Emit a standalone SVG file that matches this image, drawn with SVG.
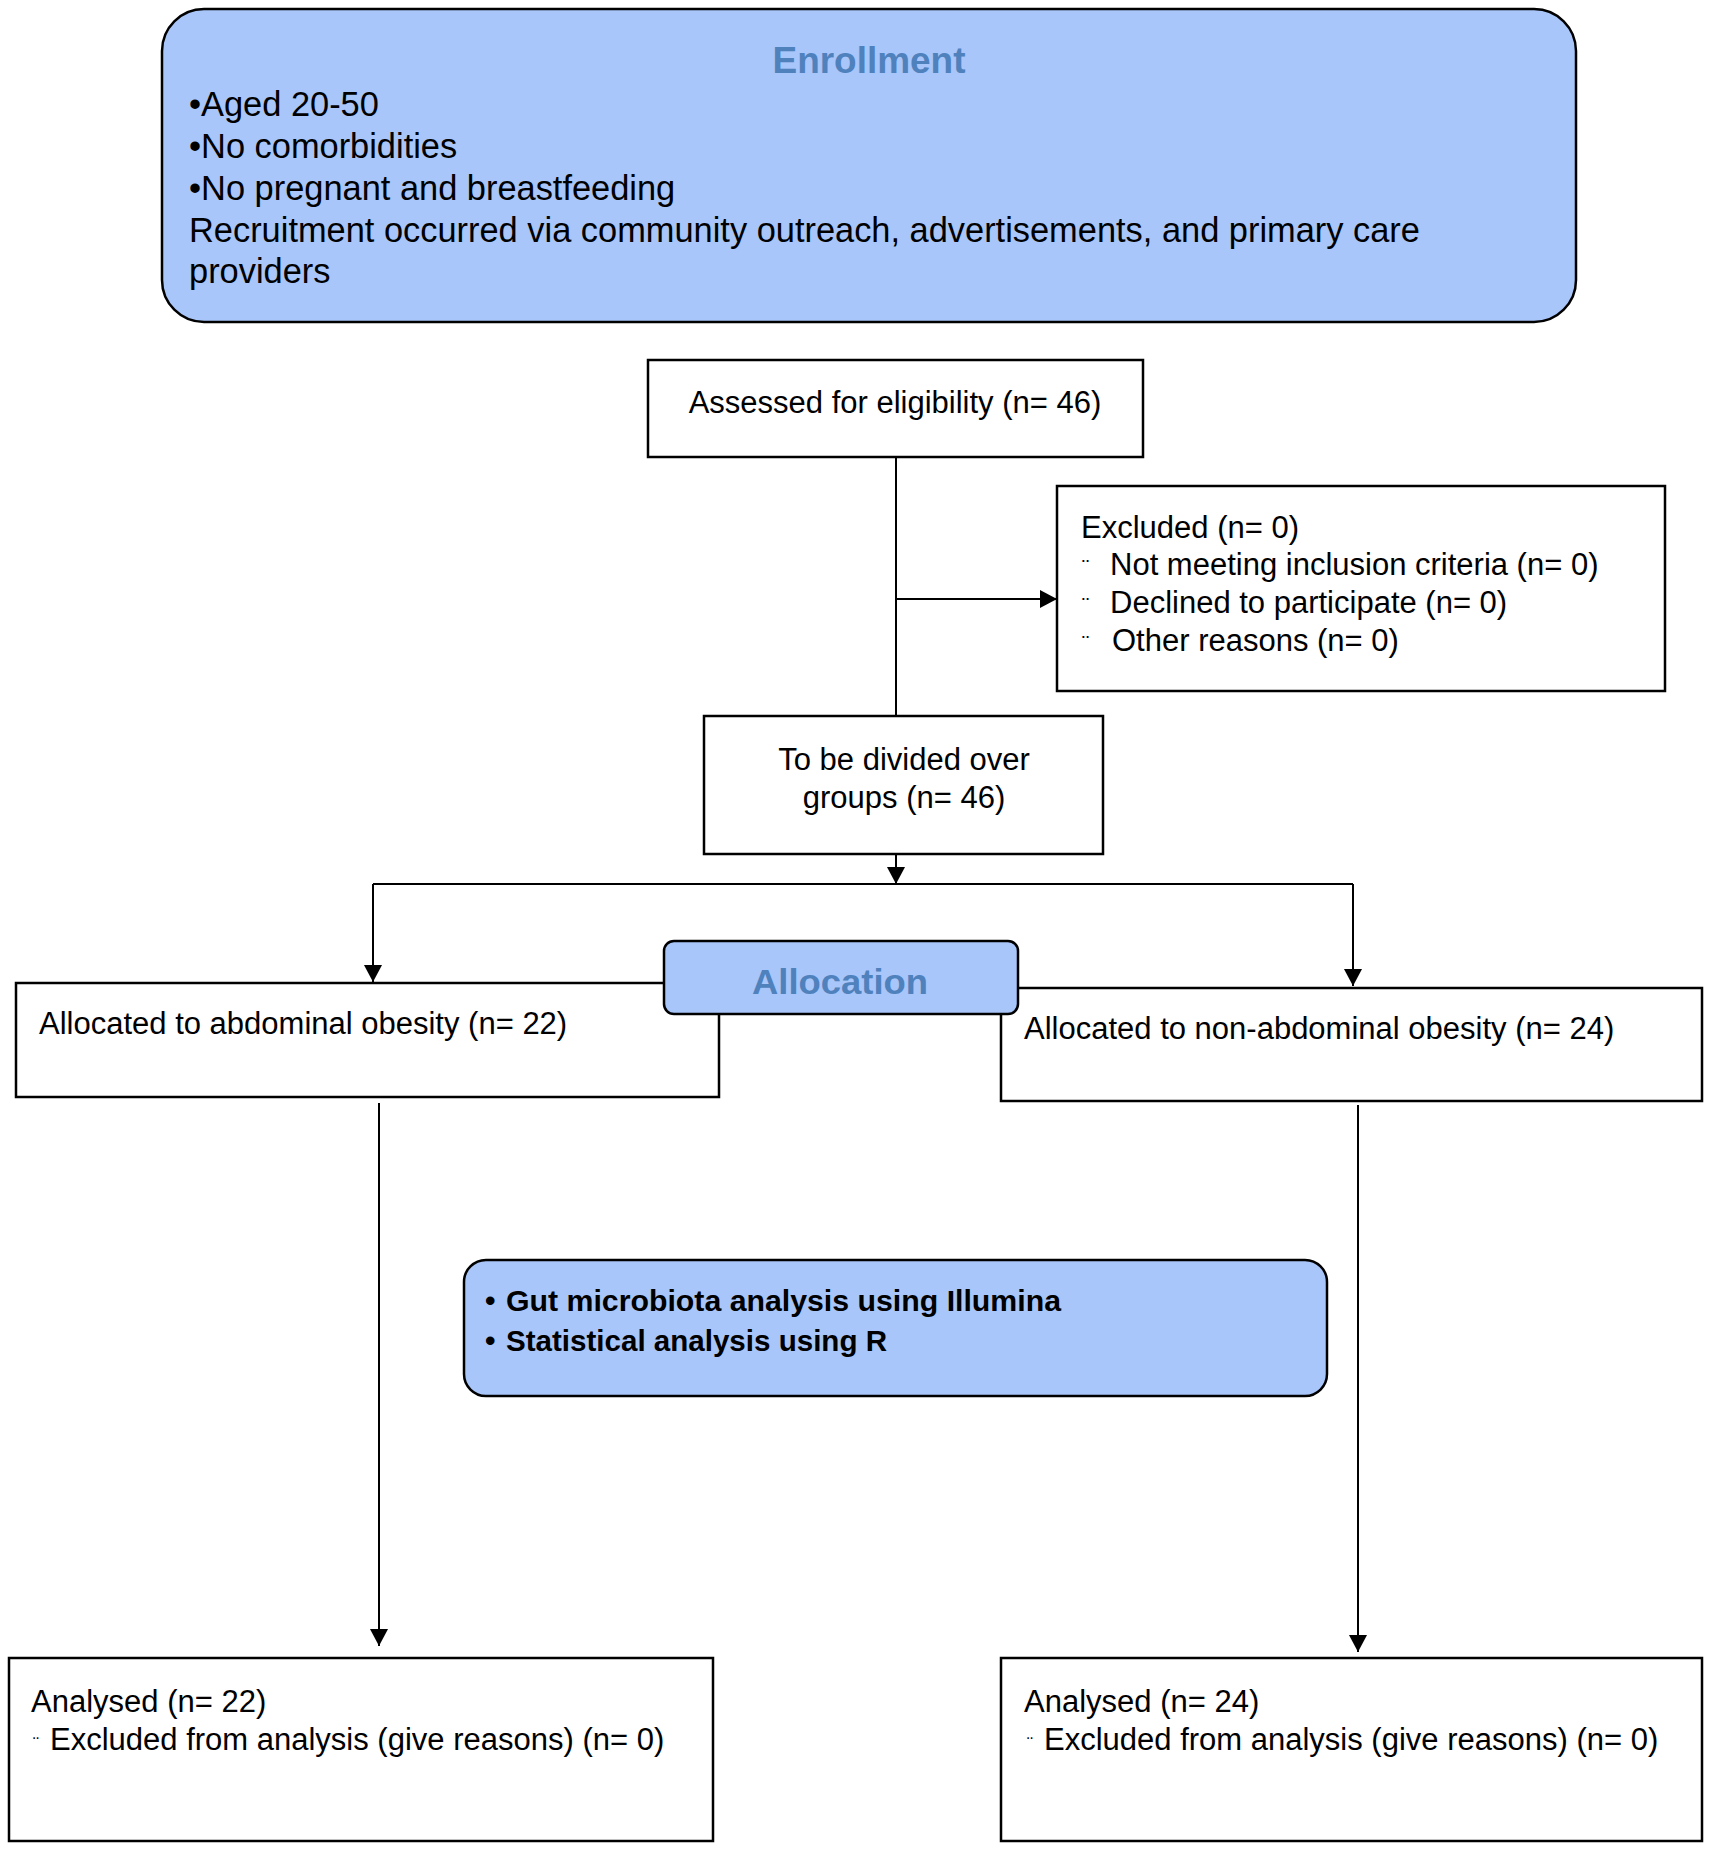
<svg xmlns="http://www.w3.org/2000/svg" width="1713" height="1852" viewBox="0 0 1713 1852">
<defs>
<style>
.box{fill:#ffffff;stroke:#000;stroke-width:2.5}
.blue{fill:#a8c6fa;stroke:#000;stroke-width:2.5}
.t{font-family:"Liberation Sans",Arial,sans-serif;font-size:31px;fill:#000}
.te{font-family:"Liberation Sans",Arial,sans-serif;font-size:34.4px;fill:#000}
.h{font-family:"Liberation Sans",Arial,sans-serif;font-weight:bold;fill:#4f81bd;text-anchor:middle}
.b{font-family:"Liberation Sans",Arial,sans-serif;font-weight:bold;font-size:30px;fill:#000}
.dot{font-family:"Liberation Sans",Arial,sans-serif;fill:#000}
.c{text-anchor:middle}
.ln{fill:none;stroke:#000;stroke-width:2}
</style>
<marker id="arr" markerUnits="userSpaceOnUse" viewBox="0 0 17 18" refX="17" refY="9" markerWidth="17" markerHeight="18" orient="auto">
<path d="M0,0 L17,9 L0,18 z" fill="#000"/>
</marker>
</defs>
<rect width="1713" height="1852" fill="#ffffff"/>

<g id="connectors">
<line class="ln" x1="896" y1="457" x2="896" y2="716"/>
<line class="ln" x1="896" y1="599" x2="1057" y2="599" marker-end="url(#arr)"/>
<line class="ln" x1="896" y1="854" x2="896" y2="884" marker-end="url(#arr)"/>
<line class="ln" x1="373" y1="884" x2="1353" y2="884"/>
<line class="ln" x1="373" y1="884" x2="373" y2="982" marker-end="url(#arr)"/>
<line class="ln" x1="1353" y1="884" x2="1353" y2="986" marker-end="url(#arr)"/>
<line class="ln" x1="379" y1="1103" x2="379" y2="1646" marker-end="url(#arr)"/>
<line class="ln" x1="1358" y1="1105" x2="1358" y2="1652" marker-end="url(#arr)"/>
</g>

<g id="enrollment">
<rect class="blue" x="162" y="9" width="1414" height="313" rx="42" ry="42"/>
<text class="h" x="869" y="73" font-size="36" textLength="193" lengthAdjust="spacingAndGlyphs">Enrollment</text>
<text class="te" x="189" y="116">•Aged 20-50</text>
<text class="te" x="189" y="158">•No comorbidities</text>
<text class="te" x="189" y="200">•No pregnant and breastfeeding</text>
<text class="te" x="189" y="242">Recruitment occurred via community outreach, advertisements, and primary care</text>
<text class="te" x="189" y="283">providers</text>
</g>

<g id="assessed">
<rect class="box" x="648" y="360" width="495" height="97"/>
<text class="t c" x="895" y="413">Assessed for eligibility (n= 46)</text>
</g>

<g id="excluded">
<rect class="box" x="1057" y="486" width="608" height="205"/>
<text class="t" x="1081" y="538">Excluded (n= 0)</text>
<text class="dot" x="1082" y="575" font-size="22">¨</text>
<text class="t" x="1110" y="575">Not meeting inclusion criteria (n= 0)</text>
<text class="dot" x="1082" y="613" font-size="22">¨</text>
<text class="t" x="1110" y="613">Declined to participate (n= 0)</text>
<text class="dot" x="1082" y="651" font-size="22">¨</text>
<text class="t" x="1112" y="651">Other reasons (n= 0)</text>
</g>

<g id="divided">
<rect class="box" x="704" y="716" width="399" height="138"/>
<text class="t c" x="904" y="770">To be divided over</text>
<text class="t c" x="904" y="808">groups (n= 46)</text>
</g>

<g id="alloc-left">
<rect class="box" x="16" y="983" width="703" height="114"/>
<text class="t" x="39" y="1034">Allocated to abdominal obesity (n= 22)</text>
</g>

<g id="alloc-right">
<rect class="box" x="1001" y="988" width="701" height="113"/>
<text class="t" x="1024" y="1039">Allocated to non-abdominal obesity (n= 24)</text>
</g>

<g id="allocation">
<rect class="blue" x="664" y="941" width="354" height="73" rx="10" ry="10"/>
<text class="h" x="840" y="994" font-size="35" textLength="176" lengthAdjust="spacingAndGlyphs">Allocation</text>
</g>

<g id="analysis-methods">
<rect class="blue" x="464" y="1260" width="863" height="136" rx="22" ry="22"/>
<text class="b" x="485" y="1311">•</text>
<text class="b" x="506" y="1311" textLength="555" lengthAdjust="spacingAndGlyphs">Gut microbiota analysis using Illumina</text>
<text class="b" x="485" y="1351">•</text>
<text class="b" x="506" y="1351" textLength="381" lengthAdjust="spacingAndGlyphs">Statistical analysis using R</text>
</g>

<g id="analysed-left">
<rect class="box" x="9" y="1658" width="704" height="183"/>
<text class="t" x="31" y="1712">Analysed (n= 22)</text>
<text class="dot" x="33" y="1750" font-size="18">¨</text>
<text class="t" x="50" y="1750">Excluded from analysis (give reasons) (n= 0)</text>
</g>

<g id="analysed-right">
<rect class="box" x="1001" y="1658" width="701" height="183"/>
<text class="t" x="1024" y="1712">Analysed (n= 24)</text>
<text class="dot" x="1027" y="1750" font-size="18">¨</text>
<text class="t" x="1044" y="1750">Excluded from analysis (give reasons) (n= 0)</text>
</g>
</svg>
